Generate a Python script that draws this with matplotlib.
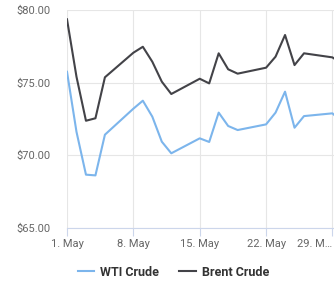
import matplotlib
matplotlib.use("Agg")
import matplotlib.pyplot as plt

plt.rcParams['font.family'] = ['Roboto', 'DejaVu Sans']

# Data (day of May)
days = [1, 2, 3, 4, 5, 8, 9, 10, 11, 12, 15, 16, 17, 18, 19, 22, 23, 24, 25, 26, 29, 30]
wti = [75.75, 71.62, 68.67, 68.62, 71.42, 73.21, 73.76, 72.66, 70.94, 70.14,
       71.17, 70.92, 72.94, 72.02, 71.74, 72.13, 72.94, 74.38, 71.90, 72.70,
       72.89, 72.30]
brent = [79.36, 75.41, 72.38, 72.55, 75.37, 77.06, 77.47, 76.44, 75.07, 74.22,
         75.27, 74.95, 77.02, 75.92, 75.62, 76.03, 76.79, 78.28, 76.21, 77.02,
         76.74, 76.30]
xticks = [1, 8, 15, 22, 29]
xtick_labels = ['1. May', '8. May', '15. May', '22. May', '29. M…']
yticks = [65, 70, 75, 80]
ytick_labels = ['$65.00', '$70.00', '$75.00', '$80.00']

W, H = 334, 289
fig = plt.figure(figsize=(W / 100, H / 100), dpi=100)
ax = fig.add_axes([67 / W, (H - 228) / H, (W - 67) / W, 218 / H])

ax.plot(days, wti, color='#7cb5ec', lw=1.5, label='WTI Crude', solid_joinstyle='round')
ax.plot(days, brent, color='#434348', lw=1.5, label='Brent Crude', solid_joinstyle='round')

ax.set_xlim(1, 1 + 267 / 9.48)
ax.set_ylim(65, 80)
ax.set_xticks(xticks)
ax.set_xticklabels(xtick_labels)
ax.set_yticks(yticks)
ax.set_yticklabels(ytick_labels)
# last label is squeezed against the right edge
ax.get_xticklabels()[-1].set_horizontalalignment('right')

ax.grid(True, color='#e6e6e6', lw=0.8)
ax.set_axisbelow(True)
for s in ['top', 'right', 'left']:
    ax.spines[s].set_visible(False)
ax.spines['bottom'].set_color('#ccd6eb')
ax.spines['bottom'].set_linewidth(0.8)
ax.tick_params(axis='x', colors='#ccd6eb', labelcolor='#666666', length=6,
               width=0.8, labelsize=8, pad=2)
ax.tick_params(axis='y', length=0, labelcolor='#666666', labelsize=8, pad=12)

leg = fig.legend(loc='center', bbox_to_anchor=(0.52, (H - 272) / H), ncol=2,
                 frameon=False, handlelength=1.3, handletextpad=0.5,
                 columnspacing=1.6, prop={'weight': 'bold', 'size': 9})
for t in leg.get_texts():
    t.set_color('#333333')

fig.savefig('out.png', dpi=100)
